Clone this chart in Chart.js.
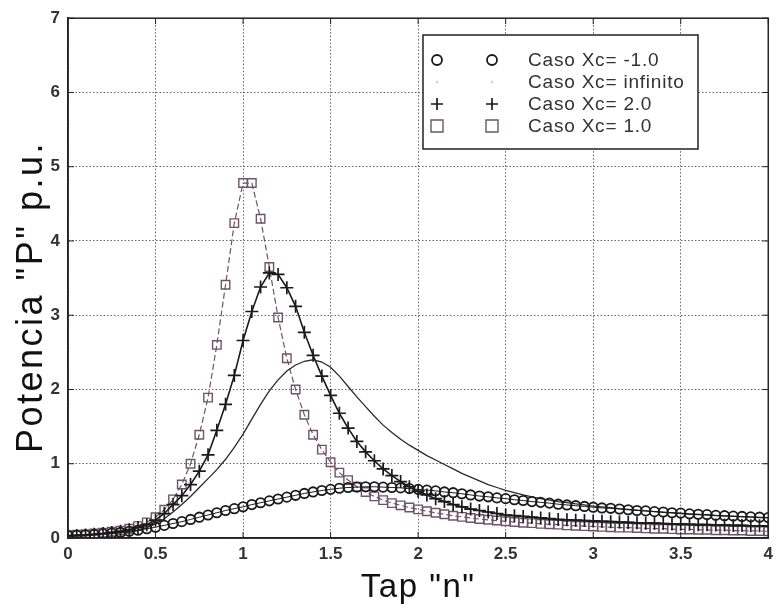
<!DOCTYPE html>
<html>
<head>
<meta charset="utf-8">
<script src="https://cdn.jsdelivr.net/npm/chart.js@4/dist/chart.umd.min.js"></script>
<style>
html,body{margin:0;padding:0;background:#fff;}
#wrap{width:779px;height:609px;position:relative;}
</style>
</head>
<body>
<div id="wrap"><canvas id="c" width="779" height="609"></canvas></div>
<script>
// Tap values (x axis)
const tapValues = [0,0.05,0.1,0.15,0.2,0.25,0.3,0.35,0.4,0.45,0.5,0.55,0.6,0.65,0.7,0.75,0.8,0.85,0.9,0.95,
1,1.05,1.1,1.15,1.2,1.25,1.3,1.35,1.4,1.45,1.5,1.55,1.6,1.65,1.7,1.75,1.8,1.85,1.9,1.95,
2,2.05,2.1,2.15,2.2,2.25,2.3,2.35,2.4,2.45,2.5,2.55,2.6,2.65,2.7,2.75,2.8,2.85,2.9,2.95,
3,3.05,3.1,3.15,3.2,3.25,3.3,3.35,3.4,3.45,3.5,3.55,3.6,3.65,3.7,3.75,3.8,3.85,3.9,3.95,4];

// Caso Xc = -1.0 (circles)
const pXcMinus1 = [0.03,0.035,0.04,0.045,0.055,0.065,0.075,0.09,0.105,0.125,0.145,0.17,0.195,0.22,0.25,0.28,0.31,0.34,0.37,0.395,
0.42,0.45,0.475,0.5,0.525,0.55,0.575,0.6,0.62,0.64,0.655,0.67,0.68,0.685,0.69,0.69,0.685,0.68,0.675,0.665,
0.655,0.645,0.635,0.62,0.61,0.595,0.58,0.565,0.555,0.54,0.53,0.515,0.505,0.49,0.48,0.47,0.455,0.445,0.435,0.425,
0.415,0.405,0.4,0.39,0.38,0.37,0.365,0.355,0.35,0.34,0.335,0.325,0.32,0.315,0.305,0.3,0.295,0.29,0.285,0.28,0.275];

// Caso Xc = infinito (solid line)
const pXcInf = [0.02,0.025,0.03,0.04,0.05,0.06,0.07,0.08,0.1,0.14,0.19,0.26,0.35,0.45,0.56,0.68,0.8,0.92,1.06,1.22,
1.4,1.6,1.8,1.98,2.13,2.25,2.33,2.38,2.4,2.37,2.3,2.18,2.04,1.9,1.77,1.64,1.52,1.42,1.33,1.25,
1.18,1.11,1.05,0.99,0.93,0.87,0.82,0.77,0.72,0.68,0.64,0.61,0.58,0.555,0.53,0.51,0.49,0.475,0.46,0.445,
0.43,0.42,0.41,0.395,0.385,0.375,0.365,0.355,0.345,0.34,0.33,0.32,0.315,0.31,0.3,0.295,0.29,0.285,0.28,0.275,0.27];

// Caso Xc = 2.0 (plus)
const pXc2 = [0.03,0.035,0.04,0.05,0.06,0.075,0.09,0.11,0.14,0.18,0.24,0.33,0.45,0.57,0.72,0.9,1.12,1.45,1.8,2.19,
2.66,3.05,3.38,3.57,3.55,3.37,3.12,2.77,2.46,2.18,1.92,1.68,1.48,1.3,1.16,1.04,0.93,0.84,0.76,0.69,
0.63,0.58,0.53,0.49,0.45,0.42,0.39,0.37,0.35,0.33,0.31,0.3,0.29,0.28,0.27,0.26,0.25,0.245,0.24,0.235,
0.23,0.225,0.22,0.215,0.21,0.205,0.2,0.2,0.195,0.19,0.19,0.185,0.18,0.18,0.175,0.175,0.17,0.17,0.165,0.165,0.16];

// Caso Xc = 1.0 (squares)
const pXc1 = [0.04,0.045,0.05,0.06,0.07,0.085,0.1,0.125,0.16,0.21,0.28,0.38,0.52,0.72,1.0,1.39,1.89,2.6,3.41,4.24,
4.78,4.78,4.3,3.65,2.97,2.42,2.0,1.66,1.39,1.19,1.02,0.88,0.78,0.69,0.62,0.56,0.51,0.47,0.44,0.41,
0.385,0.36,0.34,0.32,0.3,0.285,0.27,0.255,0.245,0.235,0.225,0.215,0.205,0.2,0.19,0.185,0.18,0.17,0.165,0.16,
0.155,0.15,0.145,0.14,0.14,0.135,0.13,0.125,0.125,0.12,0.115,0.115,0.11,0.11,0.105,0.105,0.1,0.1,0.095,0.095,0.09];

const xTicks = [0,0.5,1,1.5,2,2.5,3,3.5,4];
const yTicks = [0,1,2,3,4,5,6,7];
const legendLabels = ['Caso Xc= -1.0','Caso Xc= infinito','Caso Xc= 2.0','Caso Xc= 1.0'];
const xTitle = 'Tap "n"';
const yTitle = 'Potencia "P" p.u.';

const pts = arr => arr.map((v,i)=>({x:tapValues[i], y:v}));

const FONT = '"Liberation Sans", Arial, Helvetica, sans-serif';

const datasets = [
  {label:legendLabels[0], data:pts(pXcMinus1), borderColor:'#1a1a1a', backgroundColor:'rgba(0,0,0,0)',
   borderWidth:1, pointStyle:'circle', pointRadius:4.7, pointBorderWidth:1.8, pointBorderColor:'#1a1a1a', pointBackgroundColor:'rgba(0,0,0,0)'},
  {label:legendLabels[1], data:pts(pXcInf), borderColor:'#2a2a2a', backgroundColor:'rgba(0,0,0,0)',
   borderWidth:1.3, pointStyle:'circle', pointRadius:0},
  {label:legendLabels[2], data:pts(pXc2), borderColor:'#1a1a1a', backgroundColor:'rgba(0,0,0,0)',
   borderWidth:1.6, pointStyle:'cross', pointRadius:6.5, pointBorderWidth:1.7, pointBorderColor:'#1a1a1a'},
  {label:legendLabels[3], data:pts(pXc1), borderColor:'#6e5468', backgroundColor:'rgba(0,0,0,0)',
   borderWidth:1.2, borderDash:[6,3], pointStyle:'rect', pointRadius:6, pointBorderWidth:1.4, pointBorderColor:'#6e5468', pointBackgroundColor:'rgba(0,0,0,0)'}
];

const framePlugin = {
  id:'frame',
  afterDraw(chart){
    const {ctx, chartArea:a, scales} = chart;
    ctx.save();
    ctx.strokeStyle = '#222';
    ctx.lineWidth = 1.5;
    ctx.strokeRect(a.left, a.top, a.right-a.left, a.bottom-a.top);
    // inward ticks
    ctx.lineWidth = 1;
    xTicks.forEach(t=>{
      const x = scales.x.getPixelForValue(t);
      ctx.beginPath(); ctx.moveTo(x,a.bottom); ctx.lineTo(x,a.bottom-6);
      ctx.moveTo(x,a.top); ctx.lineTo(x,a.top+6); ctx.stroke();
    });
    yTicks.forEach(t=>{
      const y = scales.y.getPixelForValue(t);
      ctx.beginPath(); ctx.moveTo(a.left,y); ctx.lineTo(a.left+6,y);
      ctx.moveTo(a.right,y); ctx.lineTo(a.right-6,y); ctx.stroke();
    });
    // legend box
    const bx=423, by=35, bw=275, bh=114;
    ctx.fillStyle='#fff';
    ctx.fillRect(bx,by,bw,bh);
    ctx.strokeStyle='#222'; ctx.lineWidth=1.5;
    ctx.strokeRect(bx,by,bw,bh);
    const rows=[60,82,104,126];
    ctx.font = '19px '+FONT;
    try{ ctx.letterSpacing='0.8px'; }catch(e){}
    ctx.textBaseline='middle';
    ctx.textAlign='left';
    rows.forEach((ry,i)=>{
      const ds = chart.data.datasets[i];
      [437,492].forEach(mx=>{
        ctx.save();
        if(i===1){
          ctx.fillStyle='#d8d8d8';
          ctx.beginPath(); ctx.arc(mx,ry,1.5,0,Math.PI*2); ctx.fill();
        } else {
          ctx.strokeStyle = ds.pointBorderColor; ctx.lineWidth = ds.pointBorderWidth;
          ctx.beginPath();
          if(ds.pointStyle==='circle'){ ctx.arc(mx,ry,5,0,Math.PI*2); }
          else if(ds.pointStyle==='cross'){ ctx.moveTo(mx-6,ry); ctx.lineTo(mx+6,ry); ctx.moveTo(mx,ry-6); ctx.lineTo(mx,ry+6); }
          else { ctx.rect(mx-6,ry-6,12,12); }
          ctx.stroke();
        }
        ctx.restore();
      });
      ctx.fillStyle='#333';
      ctx.fillText(legendLabels[i], 528, ry+1);
    });
    // axis titles
    ctx.fillStyle='#111';
    ctx.textBaseline='alphabetic';
    ctx.textAlign='center';
    ctx.font = '33px '+FONT;
    try{ ctx.letterSpacing='1.5px'; }catch(e){}
    ctx.fillText(xTitle, (a.left+a.right)/2, 597);
    ctx.save();
    ctx.translate(42, 297);
    ctx.rotate(-Math.PI/2);
    ctx.font = '36px '+FONT;
    try{ ctx.letterSpacing='2.5px'; }catch(e){}
    ctx.fillText(yTitle, 0, 0);
    ctx.restore();
    ctx.restore();
  }
};

new Chart(document.getElementById('c'), {
  type:'line',
  data:{datasets},
  plugins:[framePlugin],
  options:{
    responsive:false,
    animation:false,
    layout:{padding:{top:8,right:4,left:0,bottom:0}},
    plugins:{legend:{display:false}, tooltip:{enabled:false}},
    scales:{
      x:{type:'linear', min:0, max:4,
        afterFit(s){ s.height = 71; },
        afterBuildTicks(s){ s.ticks = xTicks.map(v=>({value:v})); },
        ticks:{color:'#333', font:{family:FONT, size:17, weight:'bold'}, padding:6, maxRotation:0,
          callback:v=>String(v)},
        grid:{color:'#666', lineWidth:1, drawTicks:false},
        border:{display:true, color:'#222', width:1.5, dash:[1.5,2]},
        title:{display:false, text:xTitle}
      },
      y:{type:'linear', min:0, max:7,
        afterFit(s){ s.width = 68; },
        afterBuildTicks(s){ s.ticks = yTicks.map(v=>({value:v})); },
        ticks:{color:'#333', font:{family:FONT, size:17, weight:'bold'}, padding:8,
          callback:v=>String(v)},
        grid:{color:'#666', lineWidth:1, drawTicks:false},
        border:{display:true, color:'#222', width:1.5, dash:[1.5,2]},
        title:{display:false, text:yTitle}
      }
    }
  }
});
</script>
</body>
</html>
